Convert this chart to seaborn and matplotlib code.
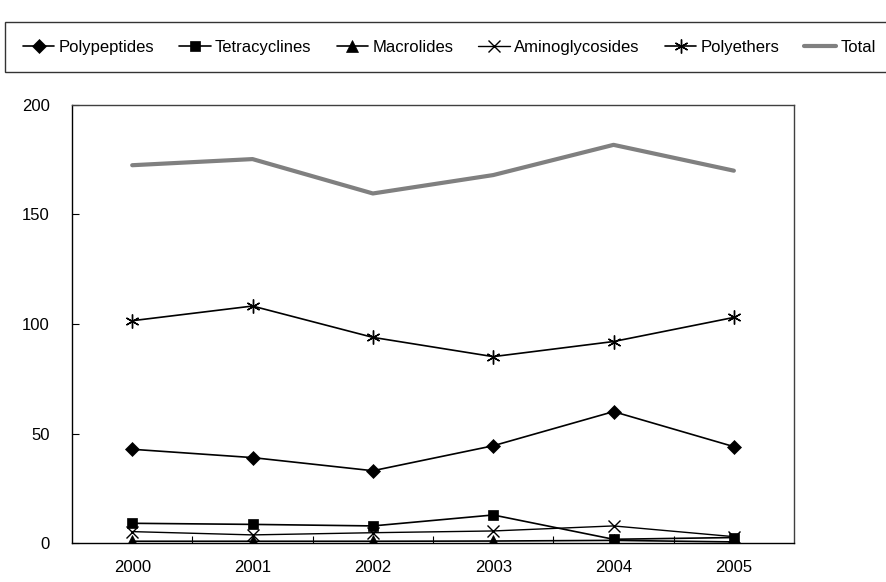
import pandas as pd
import matplotlib.pyplot as plt
import seaborn as sns

# Values
years = ["2000", "2001", "2002", "2003", "2004", "2005"]
polypeptides = [42.8, 39.0, 33.0, 44.4, 60.0, 44.0]
tetracyclines = [9.0, 8.5, 7.8, 12.8, 1.7, 2.5]
macrolides = [0.8, 0.8, 0.8, 0.9, 1.2, 0.5]
aminoglycosides = [5.2, 3.7, 4.7, 5.5, 7.8, 2.9]
polyethers = [101.5, 108.2, 93.9, 85.1, 92.0, 103.0]
total = [172.5, 175.3, 159.6, 168.0, 181.8, 170.0]

sns.set_style("white")
plt.rcParams["font.family"] = ["Liberation Sans", "DejaVu Sans"]
plt.rcParams["text.color"] = "black"
plt.rcParams["xtick.color"] = "black"
plt.rcParams["ytick.color"] = "black"

series = [
    ("Polypeptides", polypeptides, "D", 7, "black", 1.2),
    ("Tetracyclines", tetracyclines, "s", 7, "black", 1.2),
    ("Macrolides", macrolides, "^", 8, "black", 1.2),
    ("Aminoglycosides", aminoglycosides, "x", 8, "black", 1.0),
    ("Polyethers", polyethers, (6, 2, 0), 10, "black", 1.2),
    ("Total", total, None, 0, "#808080", 3.0),
]

fig = plt.figure(figsize=(8.86, 5.82), dpi=100)
ax = fig.add_axes([0.0813, 0.067, 0.8149, 0.7526])

pos = list(range(len(years)))
for name, vals, mk, ms, col, lw in series:
    df = pd.DataFrame({"x": pos, "y": vals})
    sns.lineplot(data=df, x="x", y="y", ax=ax, color=col, linewidth=lw,
                 marker=mk, markersize=ms, markeredgecolor=col,
                 markerfacecolor=col, markeredgewidth=1.0 if mk in ("x", (6, 2, 0)) else 0.5,
                 label=name)

ax.set_xlim(-0.5, len(years) - 0.5)
ax.set_ylim(0, 200)
ax.set_yticks([0, 50, 100, 150, 200])
ax.set_xticks(pos)
ax.set_xticklabels(years)
ax.set_xticks([i + 0.5 for i in range(len(years) - 1)], minor=True)
ax.tick_params(axis="x", which="major", length=0, pad=12, labelsize=12)
ax.tick_params(axis="x", which="minor", direction="in", length=5, width=0.8, bottom=True)
ax.tick_params(axis="y", direction="in", length=5, width=0.8, left=True, labelsize=12, pad=16)
ax.set_xlabel("")
ax.set_ylabel("")
for s in ax.spines.values():
    s.set_color("black")
    s.set_linewidth(1.0)
ax.spines["top"].set_color("#404040")
ax.spines["right"].set_color("#404040")

handles, labels = ax.get_legend_handles_labels()
ax.get_legend().remove()
leg = fig.legend(handles, labels, loc="upper left", bbox_to_anchor=(0.006, 0.962),
                 ncol=6, frameon=True, fancybox=False, fontsize=12,
                 handlelength=1.9, handletextpad=0.25, columnspacing=1.5,
                 borderpad=1.05, borderaxespad=0)
leg.get_frame().set_edgecolor("black")
leg.get_frame().set_linewidth(1.0)

fig.savefig("out.png", dpi=100)
